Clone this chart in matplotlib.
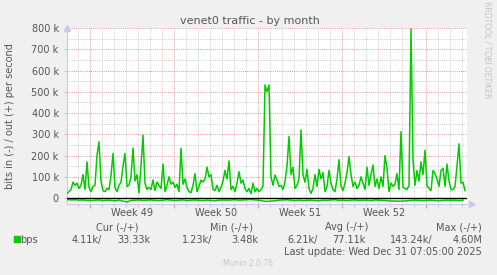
import numpy as np
import pandas as pd
import matplotlib
matplotlib.use("Agg")
import matplotlib.pyplot as plt

# out (+) traffic in kbit/s, one sample every 4 hours
bps_out = [
    22, 30, 40, 75, 60, 70, 45, 60, 110, 40, 170, 50, 30, 55, 60, 200, 265, 80, 35, 30,
    45, 40, 105, 210, 50, 30, 60, 75, 150, 210, 55, 60, 100, 235, 80, 110, 25, 150, 296, 70,
    40, 50, 40, 85, 35, 75, 60, 45, 160, 30, 60, 100, 65, 75, 50, 65, 30, 234, 65, 90,
    50, 30, 25, 60, 115, 30, 55, 85, 75, 90, 145, 100, 110, 40, 35, 60, 30, 50, 80, 130,
    90, 175, 40, 55, 30, 70, 124, 70, 85, 45, 30, 45, 20, 70, 30, 45, 30, 40, 55, 532,
    500, 532, 100, 60, 108, 85, 55, 60, 40, 77, 150, 290, 110, 145, 45, 60, 90, 320, 110, 75,
    135, 45, 22, 45, 110, 55, 135, 90, 120, 30, 55, 130, 70, 40, 30, 90, 180, 55, 35, 70,
    120, 195, 110, 55, 75, 45, 60, 100, 70, 40, 145, 60, 110, 155, 55, 90, 45, 100, 55, 200,
    140, 30, 70, 55, 65, 115, 40, 312, 50, 45, 40, 60, 795, 180, 60, 130, 80, 170, 110, 225,
    60, 45, 35, 130, 115, 90, 55, 130, 140, 55, 160, 80, 40, 40, 55, 150, 255, 70, 75, 35,
]
# in (-) traffic in kbit/s, one sample every 8 hours
bps_in = [
    7, 9, 8, 10, 9, 11, 12, 10, 9, 12,
    10, 11, 13, 10, 14, 19, 11, 10, 9, 11,
    10, 9, 11, 12, 10, 8, 10, 12, 10, 9,
    12, 10, 9, 11, 12, 10, 12, 13, 10, 9,
    10, 9, 8, 10, 9, 8, 7, 9, 10, 14,
    16, 14, 13, 10, 9, 8, 10, 12, 10, 12,
    11, 10, 12, 13, 10, 11, 9, 8, 11, 10,
    12, 10, 9, 11, 10, 10, 12, 9, 10, 11,
    12, 14, 14, 15, 14, 13, 11, 10, 11, 12,
    11, 10, 12, 13, 11, 10, 11, 10, 12, 10,
]
y_ticks = [0, 100, 200, 300, 400, 500, 600, 700, 800]
y_labels = ["0", "100 k", "200 k", "300 k", "400 k", "500 k", "600 k", "700 k", "800 k"]
weeks = ["Week 49", "Week 50", "Week 51", "Week 52"]
week_starts = ["2025-12-01", "2025-12-08", "2025-12-15", "2025-12-22", "2025-12-29"]

legend_heads = ["Cur (-/+)", "Min (-/+)", "Avg (-/+)", "Max (-/+)"]
legend_vals = ["4.11k/", "33.33k", "1.23k/", "3.48k", "6.21k/", "77.11k", "143.24k/", "4.60M"]

start = pd.Timestamp("2025-11-29 02:00")
end = start + pd.Timedelta(hours=800)
t_out = pd.date_range(start, periods=len(bps_out), freq="4h")
t_in = pd.date_range(start, periods=len(bps_in), freq="8h")

W, H = 497, 275
fig = plt.figure(figsize=(W / 100, H / 100), dpi=100, facecolor="#f0f0f0")


def px(x, y):
    return x / W, 1 - y / H


ax = fig.add_axes([67 / W, 1 - 204 / H, 400 / W, 176 / H])
ax.set_facecolor("white")
ax.set_xlim(start, end)
ax.set_ylim(-28, 800)

# grid
days = pd.date_range("2025-11-30", end, freq="D")
mondays = pd.to_datetime(week_starts)
dots = (0, (1, 1.2))
for d in days:
    if d not in mondays:
        ax.axvline(d, color="#cccccc", lw=0.7, ls=dots, zorder=1)
for d in mondays:
    ax.axvline(d, color="#e49a9a", lw=0.7, ls=dots, zorder=1)
for v in range(50, 800, 100):
    ax.axhline(v, color="#cccccc", lw=0.7, ls=dots, zorder=1)
for v in y_ticks[1:]:
    ax.axhline(v, color="#e49a9a", lw=0.7, ls=dots, zorder=1)

green = "#00cc00"
ax.plot(t_out, bps_out, color=green, lw=1.1, zorder=3)
ax.plot(t_in, -np.array(bps_in), color=green, lw=1.1, zorder=3)
ax.axhline(0, color="black", lw=1.0, zorder=4)

for s in ["top", "right"]:
    ax.spines[s].set_visible(False)
for s in ["left", "bottom"]:
    ax.spines[s].set_color("#c8c8f0")
    ax.spines[s].set_linewidth(0.8)
ax.plot([0], [1.0], marker="^", color="#c8c8f0", ms=4, transform=ax.transAxes, clip_on=False)
ax.plot([1.012], [0], marker=">", color="#c8c8f0", ms=4, transform=ax.transAxes, clip_on=False)

ax.set_yticks(y_ticks)
ax.set_yticklabels(y_labels)
ax.tick_params(axis="y", length=2, color="#c8c8c8", labelsize=7, labelcolor="#555555", pad=4)
ax.set_xticks(mondays)
ax.set_xticklabels([])
ax.set_xticks(days, minor=True)
ax.tick_params(axis="x", which="major", length=3, color="#e49a9a")
ax.tick_params(axis="x", which="minor", length=2, color="#c8c8c8")

mid = mondays[:-1] + pd.Timedelta(days=3.5)
for m, lab in zip(mid, weeks):
    ax.text(m, -0.05, lab, transform=ax.get_xaxis_transform(), ha="center", va="center",
            fontsize=7, color="#555555")

fig.text(*px(250, 21), "venet0 traffic - by month", ha="center", va="center",
         fontsize=8, color="#555555")
fig.text(*px(10, 116), "bits in (-) / out (+) per second", rotation=90, ha="center",
         va="center", fontsize=7, color="#555555")
fig.text(*px(487, 50), "RRDTOOL / TOBI OETIKER", rotation=270, ha="center", va="center",
         fontsize=5.5, color="#c4c4c4")

for xc, h in zip([117, 231, 347, 459], legend_heads):
    fig.text(*px(xc, 227), h, ha="center", va="center", fontsize=7, color="#555555")
fig.patches.append(plt.Rectangle(px(14, 242), 6 / W, 6 / H, transform=fig.transFigure,
                                 color=green, figure=fig))
fig.text(*px(20, 240), "bps", ha="left", va="center", fontsize=7, color="#555555")
for xr, v in zip([102, 150, 212, 258, 318, 366, 433, 482], legend_vals):
    fig.text(*px(xr, 240), v, ha="right", va="center", fontsize=7, color="#555555")
fig.text(*px(482, 252), "Last update: Wed Dec 31 07:05:00 2025", ha="right", va="center",
         fontsize=7, color="#555555")
fig.text(*px(248, 263), "Munin 2.0.76", ha="center", va="center", fontsize=5.5,
         color="#c8c8c8")

fig.savefig("out.png", dpi=100, facecolor=fig.get_facecolor())
